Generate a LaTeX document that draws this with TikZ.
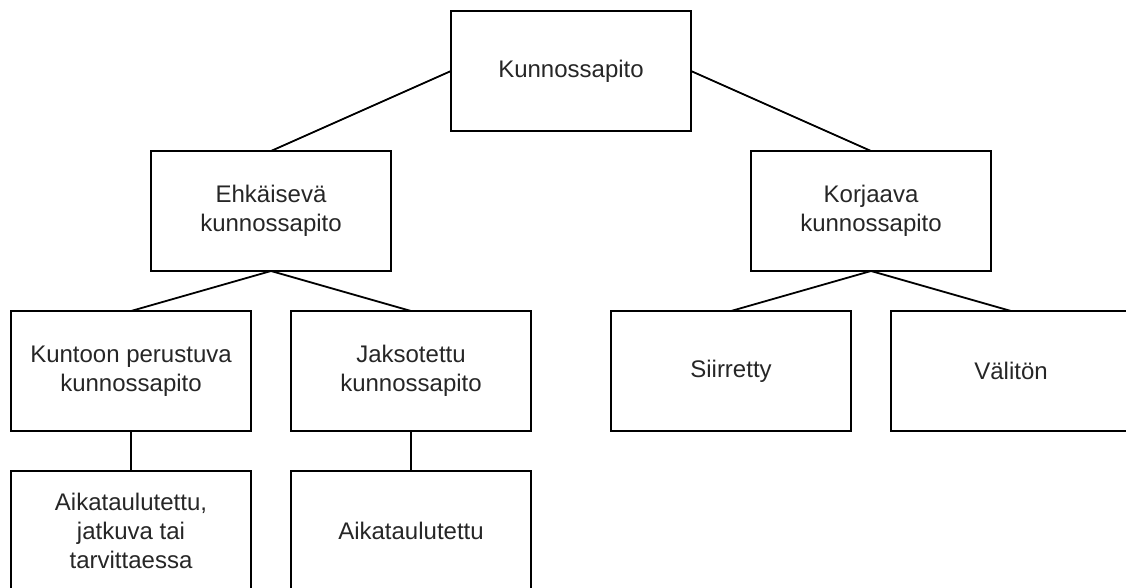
\documentclass[tikz,border=0pt]{standalone}
\usepackage{fontspec}
\setmainfont{Liberation Sans}
\usetikzlibrary{positioning}

\begin{document}
\begin{tikzpicture}[
  x=1pt, y=-1pt,
  node distance=40pt and 40pt,
  box/.style={rectangle, draw, line width=1.8pt, minimum width=240pt,
              minimum height=120pt, inner sep=0pt, outer sep=0pt,
              align=center, text=black!85, font=\fontsize{24}{29}\selectfont},
  link/.style={line width=1.8pt},
]
\useasboundingbox (0,0) rectangle (1126,587);

% Root
\node[box] (root) at (571,71) {Kunnossapito};

% Second level
\node[box, below left=20pt and 60pt of root] (ehk) {Ehkäisevä\\kunnossapito};
\node[box, below right=20pt and 60pt of root] (korj) {Korjaava\\kunnossapito};

% Third level
\node[box] (kunto) at (131,371) {Kuntoon perustuva\\kunnossapito};
\node[box, right=of kunto] (jakso) {Jaksotettu\\kunnossapito};
\node[box, right=80pt of jakso] (siirr) {Siirretty};
\node[box, right=of siirr] (valit) {Välitön};

% Fourth level
\node[box, below=of kunto] (aika1) {Aikataulutettu,\\jatkuva tai\\tarvittaessa};
\node[box, below=of jakso] (aika2) {Aikataulutettu};

% Connections
\draw[link] (root.west) -- (ehk.north);
\draw[link] (root.east) -- (korj.north);
\draw[link] (ehk.south) -- (kunto.north);
\draw[link] (ehk.south) -- (jakso.north);
\draw[link] (korj.south) -- (siirr.north);
\draw[link] (korj.south) -- (valit.north);
\draw[link] (kunto) -- (aika1);
\draw[link] (jakso) -- (aika2);

\end{tikzpicture}
\end{document}
